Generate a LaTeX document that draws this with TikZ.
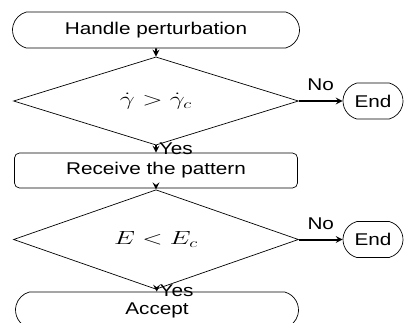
\RequirePackage{fix-cm}
\documentclass[tikz,border=0pt]{standalone}
\usepackage{fontspec}
\setmainfont{Liberation Sans}
\usepackage{graphicx}
\usetikzlibrary{arrows,shapes,positioning}
\tikzset{>=stealth}
\newcommand{\wide}[1]{\scalebox{1.22}[1]{#1}}
\newcommand{\widemath}[1]{\scalebox{1.4}[1]{\fontsize{19}{22}\selectfont$#1$}}
\tikzset{
  term/.style={draw, rounded rectangle, rounded rectangle arc length=150, line width=0.7pt, minimum height=36pt, inner sep=0pt},
  proc/.style={draw, rectangle, rounded corners=5pt, line width=0.7pt, inner sep=0pt},
  decide/.style={draw, diamond, line width=0.7pt, inner sep=0pt, minimum width=285pt, minimum height=48pt},
  flow/.style={->, line width=2pt},
}
\begin{document}
\begin{tikzpicture}[x=1pt, y=1pt, font=\fontsize{17}{20}\selectfont]
\useasboundingbox (0,0) rectangle (404,-322);
% main column
\node [term, minimum width=287pt] (start) at (156,-30) {\wide{Handle perturbation}};
\node [decide] (rate) at (156,-101) {\widemath{\dot{\gamma} > \dot{\gamma}_c}};
\node [proc, minimum width=283pt, minimum height=35pt] (recv) at (156,-170.5) {\wide{Receive the pattern}};
\node [decide, minimum height=47pt] (energy) at (156,-239.5) {\widemath{E < E_c}};
\node [term, minimum width=283pt] (accept) at (157,-310) {\wide{Accept}};
% exits
\node [term, minimum width=60pt] (end1) at (373,-101) {\wide{End}};
\node [term, minimum width=60pt] (end2) at (373,-239.5) {\wide{End}};
\draw [flow] (start) -- (rate);
\draw [flow] (rate) -- node [right, inner sep=2pt] {\wide{Yes}} (recv);
\draw [flow] (rate) -- node [above=9pt, inner sep=0pt] {\wide{No}} (end1);
\draw [flow] (recv) -- (energy);
\draw [flow] (energy) -- node [right, inner sep=2pt] {\wide{Yes}} (accept);
\draw [flow] (energy) -- node [above=9pt, inner sep=0pt] {\wide{No}} (end2);
\end{tikzpicture}
\end{document}
